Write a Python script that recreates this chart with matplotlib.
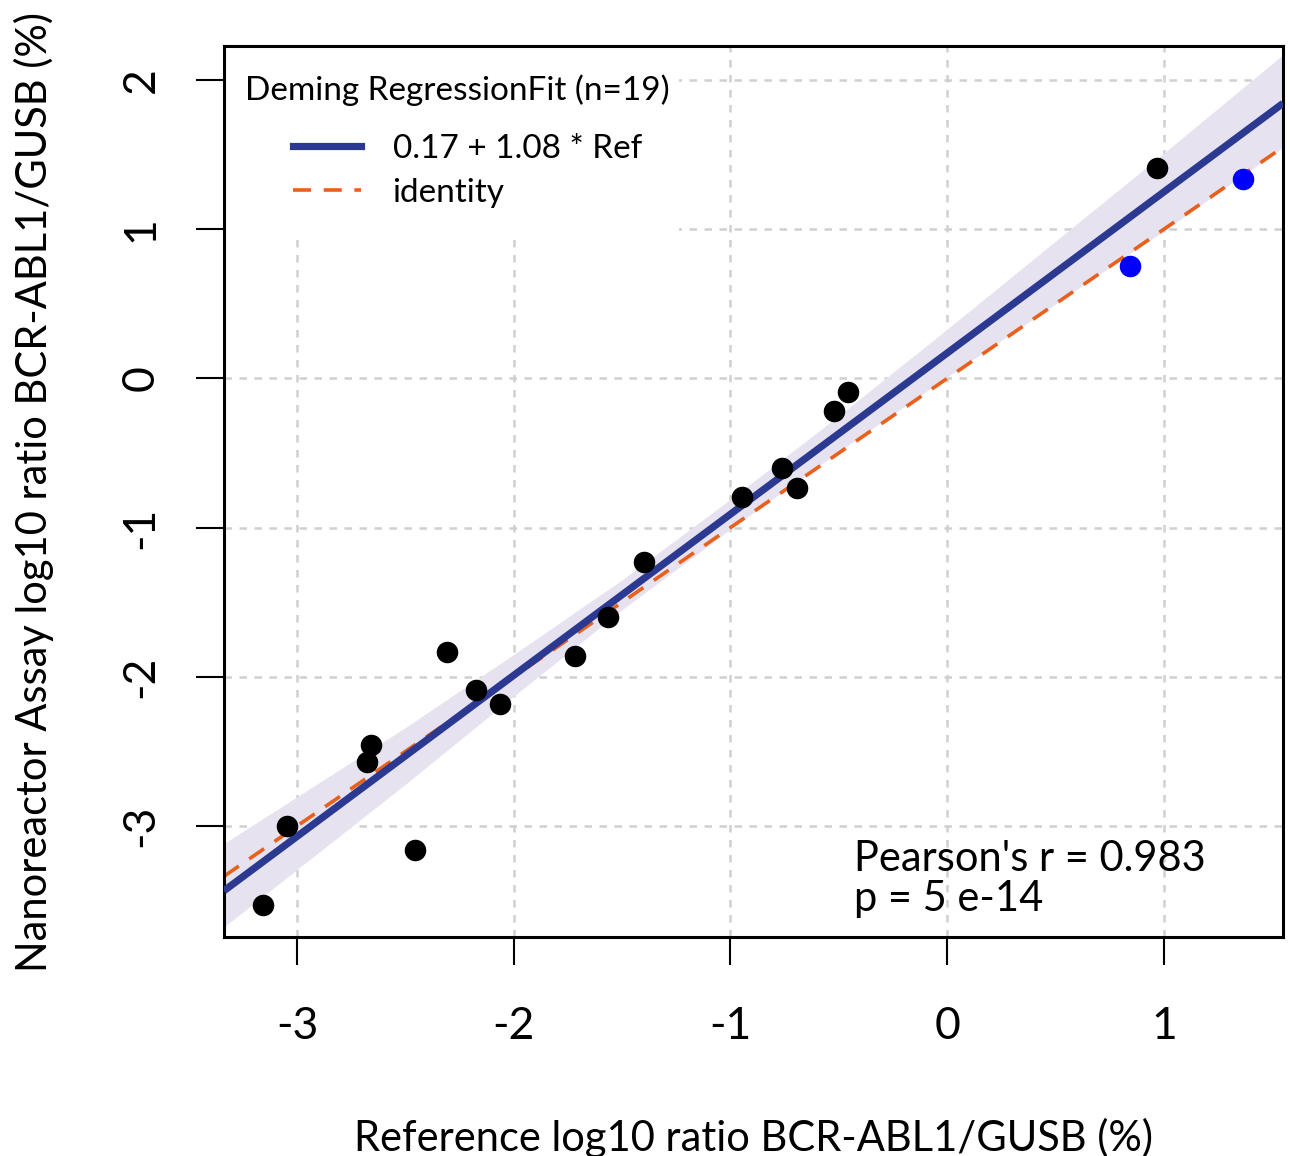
import matplotlib
matplotlib.use("Agg")
import matplotlib.pyplot as plt
from matplotlib.lines import Line2D
from matplotlib.patches import Rectangle

# reference vs nanoreactor values (log10 %)
ref_black = [-3.157, -3.046, -2.677, -2.658, -2.455, -2.307, -2.174, -2.063,
             -1.717, -1.564, -1.398, -0.946, -0.761, -0.692, -0.521, -0.457, 0.969]
nano_black = [-3.532, -3.000, -2.574, -2.460, -3.163, -1.836, -2.091, -2.185,
              -1.857, -1.602, -1.227, -0.798, -0.597, -0.731, -0.221, -0.094, 1.408]
ref_blue = [0.844, 1.366]
nano_blue = [0.751, 1.340]

intercept = 0.17
slope = 1.08

# confidence band
band_x = [-3.34, -2.5, -2.0, -1.5, -1.0, -0.5, 0.0, 0.5, 1.0, 1.55]
band_lo = [-3.68, -2.72, -2.13, -1.55, -1.01, -0.49, 0.01, 0.50, 0.99, 1.55]
band_hi = [-3.12, -2.34, -1.85, -1.35, -0.81, -0.25, 0.33, 0.92, 1.51, 2.17]

xlim = (-3.337, 1.55)
ylim = (-3.744, 2.228)

plt.rcParams['font.family'] = ['Lato', 'DejaVu Sans']
plt.rcParams['axes.unicode_minus'] = False

fig = plt.figure(figsize=(12.9, 11.56), dpi=100)
ax = fig.add_axes([0.1736, 0.1894, 0.821, 0.7708])

navy = '#2b3990'
orange = '#e8601c'
dash = (0, (5, 3.5))

ax.fill_between(band_x, band_lo, band_hi, color='#e6e2ef', lw=0, zorder=1)
fx = [xlim[0], xlim[1]]
ax.plot(fx, [intercept + slope * v for v in fx], color=navy, lw=5.2, zorder=3,
        solid_capstyle='butt')
ax.plot(fx, fx, color=orange, lw=2.6, ls=dash, zorder=2)
ax.plot(ref_black, nano_black, 'o', color='black', ms=14.5, zorder=4)
ax.plot(ref_blue, nano_blue, 'o', color='#0000ff', ms=14.5, zorder=4)

ax.set_xlim(xlim)
ax.set_ylim(ylim)
ax.set_xticks([-3, -2, -1, 0, 1])
ax.set_yticks([-3, -2, -1, 0, 1, 2])
ax.set_axisbelow(True)
ax.grid(True, color='#d0d0d0', lw=1.8, ls=(0, (3, 3)))
for s in ax.spines.values():
    s.set_linewidth(2.2)
ax.tick_params(direction='out', length=20, width=1.5, labelsize=32)
ax.tick_params(axis='x', pad=30)
ax.tick_params(axis='y', pad=25)
for lab in ax.get_yticklabels():
    lab.set_rotation(90)
    lab.set_va('center')

ax.set_xlabel('Reference log10 ratio BCR-ABL1/GUSB (%)', fontsize=30, labelpad=51)
ax.set_ylabel('Nanoreactor Assay log10 ratio BCR-ABL1/GUSB (%)', fontsize=30, labelpad=48)

# legend area (white, hides the grid)
ax.add_patch(Rectangle((0, 0.79), 0.43, 0.21, transform=ax.transAxes,
                       facecolor='white', edgecolor='none', zorder=1.5))
ax.text(0.02, 0.95, 'Deming RegressionFit (n=19)', transform=ax.transAxes,
        fontsize=24, va='center', ha='left', zorder=5)
handles = [Line2D([], [], color=navy, lw=5.2),
           Line2D([], [], color=orange, lw=2.6, ls=dash)]
ax.legend(handles, ['0.17 + 1.08 * Ref', 'identity'], loc='upper left',
          bbox_to_anchor=(0.049, 0.92), frameon=False, fontsize=24,
          handlelength=2.05, handletextpad=0.95, labelspacing=0.42, borderpad=0)

ax.text(0.595, 0.065, "Pearson's r = 0.983\np = 5 e-14", transform=ax.transAxes,
        fontsize=30, ha='left', va='center', linespacing=1.05, zorder=5)

fig.savefig('out.png', dpi=100)
